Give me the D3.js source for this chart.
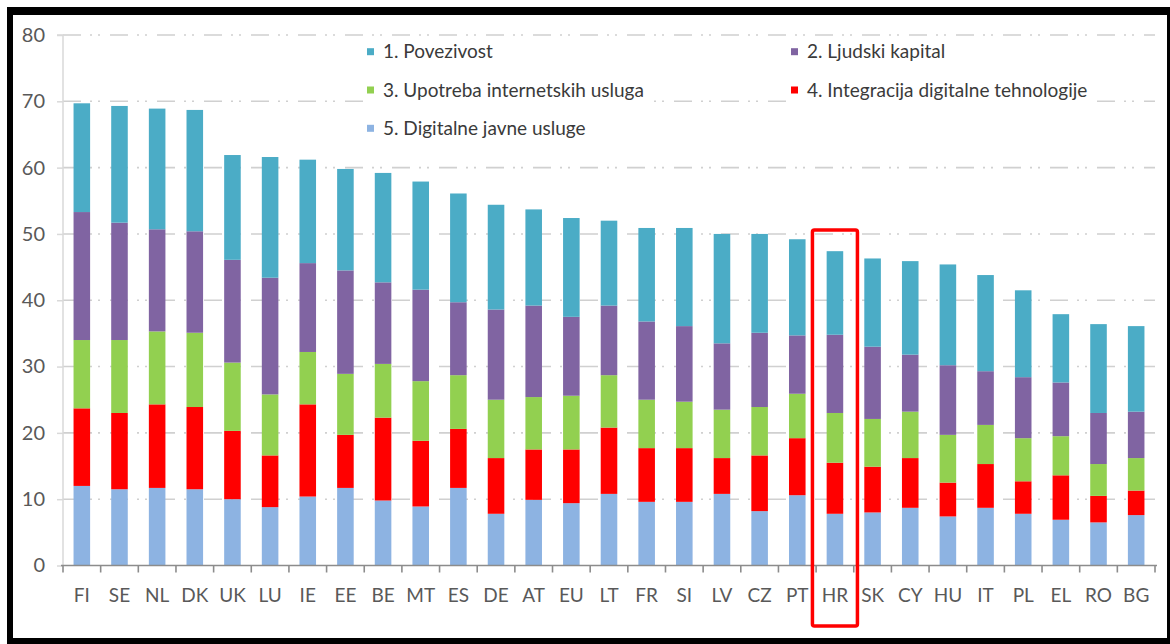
<!DOCTYPE html>
<html>
<head>
<meta charset="utf-8">
<script src="https://cdn.jsdelivr.net/npm/d3@7/dist/d3.min.js"></script>
<style>
  html, body { margin: 0; padding: 0; background: #fff; }
  svg { display: block; }
  text { font-family: Lato, "Open Sans", sans-serif; }
</style>
</head>
<body>
<svg id="chart" width="1170" height="644"></svg>
<script>
const countries = ["FI","SE","NL","DK","UK","LU","IE","EE","BE","MT","ES","DE","AT","EU","LT","FR","SI","LV","CZ","PT","HR","SK","CY","HU","IT","PL","EL","RO","BG"];
// 5. Digitalne javne usluge (bottom)
const javneUsluge   = [12.0,11.5,11.7,11.5,10.0, 8.8,10.4,11.7, 9.8, 8.9,11.7, 7.8, 9.9, 9.4,10.8, 9.6, 9.6,10.8, 8.2,10.6, 7.8, 8.0, 8.7, 7.4, 8.7, 7.8, 6.9, 6.5, 7.6];
// 4. Integracija digitalne tehnologije
const integracija   = [11.7,11.5,12.6,12.4,10.3, 7.8,13.9, 8.0,12.5, 9.9, 8.9, 8.4, 7.6, 8.1,10.0, 8.1, 8.1, 5.4, 8.4, 8.6, 7.7, 6.9, 7.5, 5.1, 6.6, 4.9, 6.7, 4.0, 3.7];
// 3. Upotreba internetskih usluga
const upotreba      = [10.3,11.0,11.0,11.2,10.3, 9.2, 7.9, 9.2, 8.1, 9.0, 8.1, 8.8, 7.9, 8.1, 7.9, 7.3, 7.0, 7.3, 7.3, 6.7, 7.5, 7.2, 7.0, 7.2, 5.9, 6.5, 5.9, 4.8, 4.9];
// 2. Ljudski kapital
const ljudski       = [19.3,17.7,15.4,15.3,15.5,17.6,13.4,15.6,12.3,13.8,11.0,13.6,13.8,11.9,10.5,11.8,11.4,10.0,11.2, 8.8,11.8,10.9, 8.6,10.5, 8.1, 9.2, 8.1, 7.7, 7.0];
// 1. Povezivost (top)
const povezivost    = [16.4,17.6,18.2,18.3,15.8,18.2,15.6,15.3,16.5,16.3,16.4,15.8,14.5,14.9,12.8,14.1,14.8,16.5,14.9,14.5,12.6,13.3,14.1,15.2,14.5,13.1,10.3,13.4,12.9];

const seriesNames = ["5. Digitalne javne usluge","4. Integracija digitalne tehnologije","3. Upotreba internetskih usluga","2. Ljudski kapital","1. Povezivost"];
const seriesColors = ["#8db3e2","#ff0000","#92d050","#8064a2","#4bacc6"];
const yTicks = [0,10,20,30,40,50,60,70,80];
const highlight = "HR";

const keys = ["javne","integracija","upotreba","ljudski","povezivost"];
const rows = countries.map((c,i) => ({
  country: c,
  javne: javneUsluge[i], integracija: integracija[i], upotreba: upotreba[i],
  ljudski: ljudski[i], povezivost: povezivost[i]
}));

const svg = d3.select("#chart");

// frame
svg.append("rect").attr("x",7).attr("y",7).attr("width",1170).attr("height",644).attr("fill","#000");
svg.append("rect").attr("x",13).attr("y",15).attr("width",1154).attr("height",623).attr("fill","#fff");

const x = d3.scaleBand().domain(countries).range([63, 1155]).paddingInner(0.56).paddingOuter(0.28);
const y = d3.scaleLinear().domain([0,80]).range([565.5, 35]);

// gridlines
svg.append("g").selectAll("line").data(yTicks.filter(t => t>0)).join("line")
  .attr("x1",63).attr("x2",1155)
  .attr("y1",d=>y(d)).attr("y2",d=>y(d))
  .attr("stroke","#d0d0d0").attr("stroke-width",1.6)
  .attr("stroke-dasharray","18,9,2,6,2,10");

// y axis
const yAxis = d3.axisLeft(y).tickValues(yTicks).tickSize(6).tickPadding(12);
const gy = svg.append("g").attr("transform","translate(63,0)").call(yAxis);
gy.select(".domain").attr("stroke","#d9d9d9").attr("stroke-width",1.5).attr("d", `M-6,${y(80)}H0V${y(0)}`);
gy.selectAll(".tick line").attr("stroke","#d9d9d9").attr("stroke-width",1.5);
gy.selectAll(".tick text").attr("fill","#595959").style("font-size","20px");

// stacked bars
const stack = d3.stack().keys(keys)(rows);
const bw = x.bandwidth();
svg.append("g").selectAll("g").data(stack).join("g")
  .attr("fill",(d,i)=>seriesColors[i])
  .selectAll("rect").data(d=>d).join("rect")
  .attr("x",d=>x(d.data.country))
  .attr("width",bw)
  .attr("y",d=>y(d[1]))
  .attr("height",d=>y(d[0])-y(d[1]));

// x axis
const xAxis = d3.axisBottom(x).tickSize(0).tickPadding(23);
const gx = svg.append("g").attr("transform",`translate(0,${y(0)})`).call(xAxis);
gx.select(".domain").attr("stroke","#8c8c8c").attr("stroke-width",1.6).attr("d",`M61,0H1157`);
gx.selectAll(".tick text").attr("fill","#595959").style("font-size","19px");
// category boundary ticks
svg.append("g").selectAll("line").data(d3.range(countries.length+1)).join("line")
  .attr("x1",i=>63 + i*x.step()).attr("x2",i=>63 + i*x.step())
  .attr("y1",y(0)).attr("y2",y(0)+7)
  .attr("stroke","#8c8c8c").attr("stroke-width",1.6);

// highlight box
const hx = x(highlight) + bw/2;
svg.append("rect").attr("x",hx-22.5).attr("y",230).attr("width",45).attr("height",396)
  .attr("rx",2).attr("fill","none").attr("stroke","#ff0000").attr("stroke-width",3.5);

// legend
const legendItems = [
  {name:"1. Povezivost", color: seriesColors[4], col:0, row:0},
  {name:"2. Ljudski kapital", color: seriesColors[3], col:1, row:0},
  {name:"3. Upotreba internetskih usluga", color: seriesColors[2], col:0, row:1},
  {name:"4. Integracija digitalne tehnologije", color: seriesColors[1], col:1, row:1},
  {name:"5. Digitalne javne usluge", color: seriesColors[0], col:0, row:2}
];
const colX = [367, 791];
const rowY = [51.7, 90, 128.3];
const lg = svg.append("g").selectAll("g").data(legendItems).join("g")
  .attr("transform",d=>`translate(${colX[d.col]},${rowY[d.row]})`);
const bg = lg.append("rect").attr("x",-3).attr("y",-13).attr("height",26).attr("fill","#fff");
lg.append("rect").attr("x",0).attr("y",-3.5).attr("width",7).attr("height",7).attr("fill",d=>d.color);
const lt = lg.append("text").attr("x",16).attr("y",0).attr("dy","0.35em")
  .attr("fill","#3a3a3a").style("font-size","19px").text(d=>d.name);
lt.each(function(d){ d.w = this.getComputedTextLength(); });
bg.attr("width",d=>d.w+22);
</script>
</body>
</html>
